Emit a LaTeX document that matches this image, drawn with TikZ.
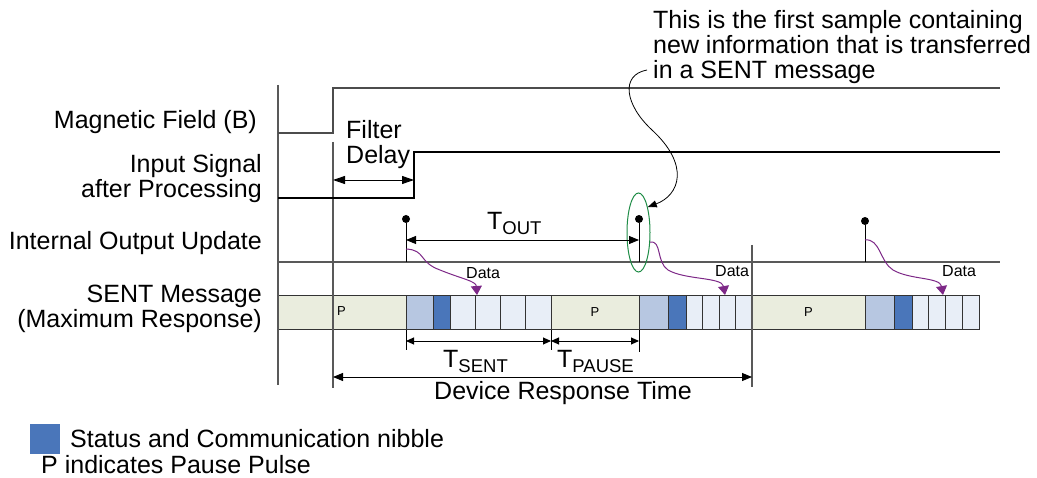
\documentclass[tikz,border=0pt]{standalone}
\usepackage{fontspec}
\setmainfont{Liberation Sans}
\usetikzlibrary{arrows.meta,positioning,shapes.geometric}
\definecolor{pausefill}{RGB}{234,237,222}
\definecolor{headfill}{RGB}{183,199,225}
\definecolor{statfill}{RGB}{74,118,186}
\definecolor{datafill}{RGB}{232,238,247}
\definecolor{dataline}{RGB}{125,40,135}
\definecolor{ringgreen}{RGB}{30,140,70}
\newcommand{\tsub}[1]{T\raisebox{-5pt}{\fontsize{18.5}{18.5}\selectfont #1}}
\tikzset{
    %Define standard arrow tip
    >={Triangle[length=10pt,width=8pt]},
    %Define style for labels
    lbl/.style={
           inner sep=0pt,
           align=right},
    small/.style={
           inner sep=0pt,
           font=\fontsize{16}{16}\selectfont},
    dot/.style={
           circle, fill=black,
           inner sep=0pt, minimum size=8pt},
    %Define style for message cells
    cell/.style={
           draw=black!80, line width=0.9pt,
           minimum height=34pt,
           inner sep=0pt, outer sep=0pt,
           font=\fontsize{13}{13}\selectfont},
    pcell/.style={cell, fill=pausefill},
    hcell/.style={cell, fill=headfill},
    scell/.style={cell, fill=statfill},
    dcell/.style={cell, fill=datafill},
    % Define line styles
    sig/.style={
           line width=1.1pt, black},
    grid/.style={
           line width=1.1pt, black!65},
    dim/.style={
           <->, line width=0.9pt},
    dataflow/.style={
           -{Triangle[length=9pt,width=11pt]},
           dataline, line width=1pt},
    notearrow/.style={
           -{Triangle[length=9pt,width=7pt]}, line width=0.8pt}
}
\begin{document}
\begin{tikzpicture}[x=1pt, y=-1pt, font=\fontsize{25}{25}\selectfont, node distance=0pt]
\useasboundingbox (0,0) rectangle (1037,478);
 %labels
\node[lbl, anchor=base east] (mag) at (257,129) {Magnetic Field (B)};
\node[lbl, anchor=north east] (inp) at (262,154) {Input Signal\\after Processing};
\node[lbl, anchor=base east] (upd) at (262,250) {Internal Output Update};
\node[lbl, anchor=north east] (msg) at (262,285) {SENT Message\\(Maximum Response)};
\node[lbl, align=left, anchor=north west] (note) at (653,10)
	{This is the first sample containing\\new information that is transferred\\in a SENT message};
 %message cells
\node[pcell, minimum width=128pt, anchor=west] (p1) at (278,312) {};
\node[hcell, minimum width=27pt, right=of p1] (h1) {};
\node[scell, minimum width=17pt, right=of h1] (s1) {};
\node[dcell, minimum width=25.25pt, right=of s1] (d1a) {};
\node[dcell, minimum width=25.25pt, right=of d1a] (d1b) {};
\node[dcell, minimum width=25.25pt, right=of d1b] (d1c) {};
\node[dcell, minimum width=25.25pt, right=of d1c] (d1d) {};
\node[pcell, minimum width=88pt, right=of d1d] (p2) {P};
\node[hcell, minimum width=29pt, right=of p2] (h2) {};
\node[scell, minimum width=18pt, right=of h2] (s2) {};
\node[dcell, minimum width=16.5pt, right=of s2] (d2a) {};
\node[dcell, minimum width=16.5pt, right=of d2a] (d2b) {};
\node[dcell, minimum width=16.5pt, right=of d2b] (d2c) {};
\node[dcell, minimum width=16.5pt, right=of d2c] (d2d) {};
\node[pcell, minimum width=113pt, right=of d2d] (p3) {P};
\node[hcell, minimum width=29pt, right=of p3] (h3) {};
\node[scell, minimum width=18pt, right=of h3] (s3) {};
\node[dcell, minimum width=16.75pt, right=of s3] (d3a) {};
\node[dcell, minimum width=16.75pt, right=of d3a] (d3b) {};
\node[dcell, minimum width=16.75pt, right=of d3b] (d3c) {};
\node[dcell, minimum width=16.75pt, right=of d3c] (d3d) {};
\node[small, font=\fontsize{13}{13}\selectfont, anchor=base west] (p1txt) at (337,316) {P};
 %time lines
\draw[grid] (278,85) -- (278,385);
\draw[grid] (333,142) -- (333,388);
\draw[grid] (752,245) -- (752,387);
 %signals
\draw[sig, black!70] (278,133) -| (333,88) -- (1000,88);
\draw[line width=2pt, black!70] (523,88) -- (533,88);
\draw[sig] (278,198) -| (414,152) -- (1000,152);
\draw[grid] (278,262) -- (1000,262);
\node[dot] (u1) at (406,219) {};
\node[dot] (u2) at (639,219) {};
\node[dot] (u3) at (865,221) {};
\draw[sig, line width=0.9pt] (u1) -- (406,262);
\draw[sig, line width=0.9pt] (u2) -- (639,262);
\draw[sig, line width=0.9pt] (u3) -- (865,262);
\node[ellipse, draw=ringgreen, line width=1pt, minimum width=23pt, minimum height=79pt, inner sep=0pt] (ring) at (638.5,232.5) {};
 %dimensions
\draw[dim, >={Triangle[length=12pt,width=8pt]}] (333,180) -- (414,180);
\node[lbl, align=left, anchor=north west] (delay) at (346,120) {Filter\\Delay};
\draw[dim] (406,240) -- (639,240);
\node[lbl, anchor=base west] (tout) at (487,230) {\tsub{OUT}};
\draw[sig, line width=0.9pt] (406,330) -- (406,350);
\draw[sig, line width=0.9pt] (551,330) -- (551,350);
\draw[sig, line width=0.9pt] (639,330) -- (639,352);
\draw[dim, >={Triangle[length=8pt,width=7pt]}] (406,341) -- (551,341);
\draw[dim, >={Triangle[length=8pt,width=7pt]}] (551,341) -- (639,341);
\node[lbl, anchor=base west] (tsent) at (443,368) {\tsub{SENT}};
\node[lbl, anchor=base west] (tpause) at (557,368) {\tsub{PAUSE}};
\draw[dim] (333,377) -- (752,377);
\node[lbl, anchor=base west] (resp) at (434,400) {Device Response Time};
 %data transfer
\draw[dataflow] (406,249) .. controls (426,250) and (418,262) .. (440,270) .. controls (462,279) and (476,281) .. (477,295);
\draw[dataflow] (650,242) .. controls (662,240) and (656,262) .. (668,270) .. controls (685,280) and (722,277) .. (725,295);
\draw[dataflow] (865,240) .. controls (880,238) and (880,262) .. (893,270) .. controls (910,280) and (940,277) .. (943,295);
\node[small, anchor=base west] (data1) at (466,279) {Data};
\node[small, anchor=base west] (data2) at (715,277) {Data};
\node[small, anchor=base west] (data3) at (942,277) {Data};
 %note
\coordinate (notestart) at (647,70);
\draw[notearrow] (notestart) .. controls (620,75) and (625,105) .. (652,130) .. controls (690,165) and (680,195) .. (ring.70);
 %legend
\node[fill=statfill, minimum size=30pt, inner sep=0pt] (key) at (44.5,439) {};
\node[lbl, anchor=base west] (keytxt) at (70,447) {Status and Communication nibble};
\node[lbl, anchor=base west] (ptxt) at (41,473) {P indicates Pause Pulse};
\end{tikzpicture}
\end{document}
